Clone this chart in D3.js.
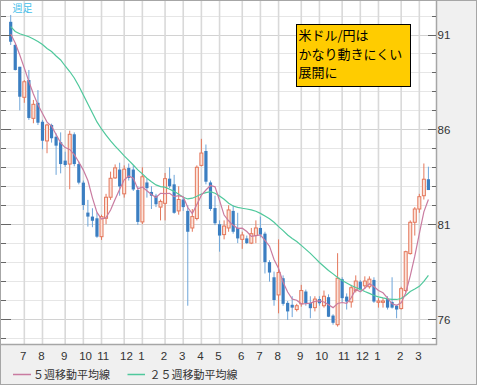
<!DOCTYPE html>
<html><head><meta charset="utf-8">
<script src="https://cdn.jsdelivr.net/npm/d3@7"></script>
<style>
html,body{margin:0;padding:0;background:#fff;}
svg{display:block;}
</style></head>
<body><svg id="c" width="478" height="386"></svg>
<script>
// ---- data (weekly USD/JPY candles) ----
const firstWeek = "2010-06-14";
const lastWeek  = "2012-03-19";
const openP = [91.67,90.45,89.3,87.69,88.6,86.58,87.4,86.4,85.39,86.23,
 85.61,85.32,84.35,84.17,85.74,84.17,83.19,81.61,81.4,81.31,
 80.34,81.31,82.42,83.44,83.88,82.6,83.97,83.88,82.8,81.12,
 83.2,82.7,82.5,81.9,82.1,83.4,83.1,81.7,82.3,81.7,
 80.8,81.3,84.1,84.86,83.2,81.85,81.0,80.45,80.8,81.7,
 80.8,80.2,80.25,80.0,80.4,80.8,80.5,79.0,78.2,77.27,
 78.15,76.85,76.75,76.5,76.8,77.45,76.85,76.6,77.05,76.7,
 77.15,76.18,75.7,78.1,77.18,76.9,77.5,77.97,77.75,77.7,
 78.06,76.88,76.88,77.05,76.9,76.7,76.55,77.5,79.45,81.1,
 81.8,82.5,83.37];
const highP = [92.03,90.5,89.3,88.6,89.13,87.55,88.07,86.5,86.3,86.3,
 85.79,85.84,84.82,85.93,85.84,84.3,83.3,82.28,81.84,81.6,
 81.5,82.6,83.77,84.15,84.24,84.1,84.2,84.1,83.0,84.0,
 83.4,83.0,82.6,82.3,83.7,84.0,83.6,83.0,82.4,82.0,
 81.8,84.1,85.5,85.2,83.3,82.5,81.2,81.2,82.0,82.0,
 81.6,80.6,80.4,80.8,81.2,81.4,80.6,79.1,78.5,80.2,
 78.3,76.95,77.2,76.8,77.8,77.55,77.2,77.2,77.2,77.5,
 77.3,76.25,79.47,78.2,77.35,77.8,78.3,78.05,78.25,78.25,
 78.2,77.1,77.1,77.2,78.2,76.75,77.7,79.6,81.2,81.9,
 82.6,84.2,84.03];
const lowP = [90.45,89.1,87.0,87.4,86.5,86.32,86.23,84.95,84.74,85.3,
 83.6,83.68,84.03,82.84,84.05,83.1,81.75,80.87,80.84,80.28,
 80.17,81.0,82.28,83.39,82.5,82.4,83.3,82.75,80.96,81.0,
 82.4,81.8,81.9,81.2,81.2,82.9,81.55,81.5,81.7,76.7,
 80.6,81.2,84.05,83.1,81.7,80.95,79.55,80.2,80.6,80.5,
 80.0,79.7,79.95,79.95,80.0,80.3,78.4,77.97,76.7,76.3,
 76.7,75.95,76.1,76.4,76.65,76.7,76.04,76.4,76.7,76.6,
 76.1,75.7,75.6,76.9,76.5,76.6,77.4,77.5,77.6,77.6,
 76.85,76.6,76.6,76.5,76.55,76.04,76.5,77.4,79.4,80.4,
 81.6,82.3,82.8];
const closeP = [90.62,89.13,87.72,88.51,86.6,87.32,86.35,85.4,86.23,85.53,
 85.14,84.17,84.12,85.74,84.17,83.19,82.01,81.4,81.18,80.34,
 81.4,82.42,83.42,83.97,82.99,83.9,83.44,82.83,81.12,83.5,
 82.9,82.5,82.05,82.2,83.4,83.0,81.6,82.3,81.9,80.6,
 81.4,84.0,84.75,83.24,81.8,81.05,80.4,80.9,81.75,80.6,
 80.25,80.43,80.0,80.5,80.8,80.45,79.0,78.45,77.0,78.45,
 76.8,76.4,76.6,76.7,77.5,76.83,76.57,77.05,76.83,77.2,
 76.12,75.8,78.15,77.1,76.92,77.65,78.0,77.55,78.0,78.1,
 76.92,76.95,76.95,76.6,76.6,76.5,77.6,79.55,81.1,81.8,
 82.45,83.37,82.8];
const ma5 = [91.03,90.55,89.92,89.23,88.52,87.86,87.30,86.84,86.38,86.17,
 85.73,85.29,85.04,84.94,84.67,84.28,83.85,83.30,82.39,81.62,
 81.27,81.35,81.75,82.31,82.84,83.34,83.54,83.43,82.86,82.96,
 82.76,82.57,82.41,82.63,82.61,82.63,82.45,82.50,82.44,81.88,
 81.56,82.04,82.53,82.80,83.04,82.97,82.25,81.48,81.18,80.94,
 80.78,80.79,80.61,80.36,80.40,80.44,80.15,79.84,79.14,78.67,
 77.94,77.42,77.05,76.99,76.80,76.81,76.84,76.93,76.96,76.90,
 76.75,76.60,76.82,76.87,76.82,77.12,77.56,77.44,77.62,77.86,
 77.71,77.50,77.38,77.10,76.80,76.72,76.85,77.37,78.27,79.31,
 80.50,81.65,82.30];
const ma25 = [91.42,91.16,91.04,90.96,90.88,90.76,90.63,90.47,90.26,90.10,
 89.87,89.66,89.34,89.05,88.71,88.29,87.81,87.34,86.86,86.39,
 86.02,85.70,85.39,85.12,84.86,84.60,84.36,84.12,83.86,83.65,
 83.42,83.24,83.07,82.98,82.95,82.84,82.73,82.58,82.42,82.33,
 82.37,82.47,82.59,82.66,82.71,82.63,82.49,82.31,82.10,81.96,
 81.89,81.84,81.80,81.75,81.68,81.57,81.43,81.29,81.10,80.87,
 80.66,80.43,80.25,80.09,79.88,79.67,79.46,79.22,78.98,78.77,
 78.56,78.38,78.19,78.03,77.90,77.77,77.66,77.56,77.45,77.35,
 77.24,77.17,77.11,77.06,77.03,77.03,77.08,77.24,77.45,77.58,
 77.72,77.98,78.30];
const monthTickDates = ["2010-07-05","2010-08-02","2010-09-06","2010-10-04","2010-11-01","2010-12-06",
 "2011-01-03","2011-02-07","2011-03-07","2011-04-04","2011-05-02","2011-06-06","2011-07-04",
 "2011-08-01","2011-09-05","2011-10-03","2011-11-07","2011-12-05","2012-01-02","2012-02-06","2012-03-05"];
const monthTickLabels = ["7","8","9","10","11","12","1","2","3","4","5","6","7","8","9","10","11","12","1","2","3"];
const yMajorTicks = [76,81,86,91];
const yMinorTicks = [75,76,77,78,79,80,81,82,83,84,85,86,87,88,89,90,91,92];
const seriesNames = ["５週移動平均線","２５週移動平均線"];
const titleText = "週足";
const noteLines = ["米ドル/円は","かなり動きにくい","展開に"];

// ---- layout ----
const svg = d3.select("#c");
const PR = 436, PB = 344;
const parse = d3.utcParse("%Y-%m-%d");
const weeks = d3.utcMonday.range(parse(firstWeek), d3.utcDay.offset(parse(lastWeek), 1));
const x = d3.scaleUtc()
  .domain([Date.UTC(2010,4,28,12), Date.UTC(2012,2,30,17)])
  .range([0, PR]);
const y = d3.scaleLinear().domain([74.682, 92.82]).range([PB, 0]);

const data = weeks.map((d,i)=>({d, o:openP[i], h:highP[i], l:lowP[i], c:closeP[i], m5:ma5[i], m25:ma25[i]}));

// backgrounds
svg.append("rect").attr("x",0.5).attr("y",0.5).attr("width",476).attr("height",384)
  .attr("fill","#f0f0f0").attr("stroke","#a6a6a6");
svg.append("rect").attr("x",1).attr("y",1).attr("width",PR-1).attr("height",PB-1).attr("fill","#fff");

// grid
const g = svg.append("g");
g.selectAll("line.hg").data(yMinorTicks).join("line")
  .attr("x1",1).attr("x2",PR).attr("y1",d=>Math.round(y(d))+0.5).attr("y2",d=>Math.round(y(d))+0.5)
  .attr("stroke",d=>yMajorTicks.includes(d)?"#d2d2d2":"#e6e6e6").attr("stroke-width",1);
g.selectAll("line.vg").data(monthTickDates).join("line")
  .attr("x1",d=>x(parse(d))).attr("x2",d=>x(parse(d))).attr("y1",1).attr("y2",PB)
  .attr("stroke","#d9d9d9").attr("stroke-width",1.6);

// candles
const BLUE="#3b7ec1", BLUEW="#6ea5d9", RED="#e4775b", REDFILL="#fbe3da";
const cg = svg.append("g");
cg.selectAll("line.w").data(data).join("line")
  .attr("x1",d=>x(d.d)).attr("x2",d=>x(d.d)).attr("y1",d=>y(d.h)).attr("y2",d=>y(d.l))
  .attr("stroke",d=>d.c>=d.o?RED:BLUEW).attr("stroke-width",1);
cg.selectAll("rect.b").data(data).join("rect")
  .attr("x",d=>d.c>=d.o? x(d.d)-1.5 : x(d.d)-1.6)
  .attr("width",d=>d.c>=d.o?3:3.2)
  .attr("y",d=>y(Math.max(d.o,d.c)))
  .attr("height",d=>Math.max(1,Math.abs(y(d.o)-y(d.c))))
  .attr("fill",d=>d.c>=d.o?REDFILL:BLUE)
  .attr("stroke",d=>d.c>=d.o?RED:"none").attr("stroke-width",1);

// moving averages
const PINK="#c97ba0", GREEN="#4fc89c";
svg.append("path").datum(data).attr("fill","none").attr("stroke",GREEN).attr("stroke-width",1.2)
  .attr("d",d3.line().x(d=>x(d.d)).y(d=>y(d.m25)));
svg.append("path").datum(data).attr("fill","none").attr("stroke",PINK).attr("stroke-width",1.2)
  .attr("d",d3.line().x(d=>x(d.d)).y(d=>y(d.m5)));

// borders
svg.append("line").attr("x1",PR+0.5).attr("x2",PR+0.5).attr("y1",0).attr("y2",PB+1).attr("stroke","#a6a6a6").attr("stroke-width",1.5);
svg.append("line").attr("x1",0).attr("x2",PR+1).attr("y1",PB+0.5).attr("y2",PB+0.5).attr("stroke","#a6a6a6").attr("stroke-width",1.5);

// y ticks (left and right)
const tk = svg.append("g").attr("stroke","#666").attr("stroke-width",1);
yMinorTicks.forEach(v=>{
  const yy = Math.round(y(v))+0.5, maj = yMajorTicks.includes(v);
  tk.append("line").attr("x1",1).attr("x2",maj?11:6).attr("y1",yy).attr("y2",yy);
  tk.append("line").attr("x1",maj?428:432).attr("x2",PR).attr("y1",yy).attr("y2",yy);
});
svg.append("g").selectAll("text").data(yMajorTicks).join("text")
  .attr("x",437.5).attr("y",d=>y(d)+4.5)
  .attr("font-family","Liberation Sans, Arial, sans-serif").attr("font-size",11.5).attr("fill","#333")
  .text(d=>d);

// x labels
svg.append("g").selectAll("text").data(monthTickDates).join("text")
  .attr("x",d=>x(parse(d))-4.2).attr("y",359.5)
  .attr("font-family","Liberation Sans, Arial, sans-serif").attr("font-size",11.5).attr("fill","#333")
  .text((d,i)=>monthTickLabels[i]);

// legend
const lg = svg.append("g").attr("font-family","Noto Sans CJK JP, sans-serif").attr("font-size",11).attr("fill","#333");
lg.append("line").attr("x1",13).attr("x2",31).attr("y1",374.5).attr("y2",374.5).attr("stroke",PINK).attr("stroke-width",1.5);
lg.append("text").attr("x",33).attr("y",378.5).text(seriesNames[0]);
lg.append("line").attr("x1",127.5).attr("x2",145).attr("y1",374.5).attr("y2",374.5).attr("stroke",GREEN).attr("stroke-width",1.5);
lg.append("text").attr("x",149.5).attr("y",378.5).text(seriesNames[1]);

// title
svg.append("text").attr("x",12.5).attr("y",11.5).attr("font-family","Noto Sans CJK JP, sans-serif")
  .attr("font-size",10).attr("fill","#45c0ea").text(titleText);

// note box
svg.append("rect").attr("x",296.5).attr("y",24.5).attr("width",114).attr("height",62)
  .attr("fill","#ffcc00").attr("stroke","#000").attr("stroke-width",1);
svg.append("g").selectAll("text").data(noteLines).join("text")
  .attr("x",298.5).attr("y",(d,i)=>34.5+i*18.5).attr("dominant-baseline","central")
  .attr("font-family","Noto Sans CJK JP, sans-serif").attr("font-size",13).attr("fill","#000")
  .text(d=>d);
</script>
</body></html>
